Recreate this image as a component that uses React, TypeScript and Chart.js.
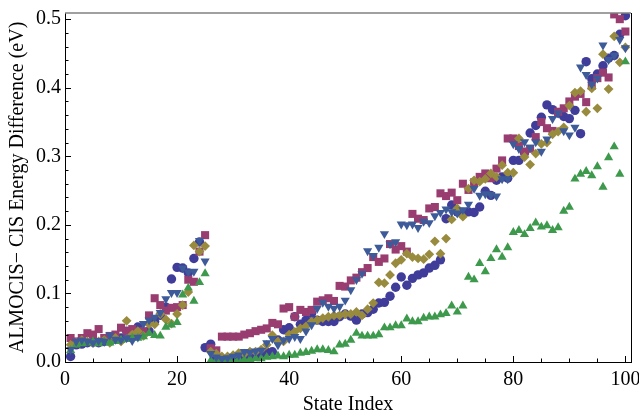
import React, { useEffect, useRef } from 'react';
import { Chart, registerables } from 'chart.js';

Chart.register(...registerables);

// Series values for state index 1..100
const CIRCLE = [
  0.008, 0.025, 0.026, 0.028, 0.029, 0.028, 0.030, 0.030, 0.033, 0.035,
  0.045, 0.040, 0.051, 0.042, 0.045, 0.059, 0.068, 0.080, 0.121, 0.138,
  0.137, 0.130, 0.151, 0.175, 0.021, 0.026, 0.005, 0.004, 0.005, 0.005,
  0.006, 0.007, 0.008, 0.010, 0.012, 0.014, 0.015, 0.032, 0.047, 0.050,
  0.066, 0.055, 0.061, 0.071, 0.061, 0.059, 0.059, 0.059, 0.066, 0.070,
  0.067, 0.061, 0.070, 0.072, 0.077, 0.086, 0.087, 0.096, 0.109, 0.124,
  0.112, 0.122, 0.127, 0.130, 0.137, 0.141, 0.149, 0.209, 0.229, 0.219,
  0.218, 0.219, 0.218, 0.226, 0.249, 0.243, 0.265, 0.270, 0.268, 0.294,
  0.294, 0.305, 0.334, 0.345, 0.357, 0.375, 0.368, 0.363, 0.358, 0.355,
  0.367, 0.333, 0.438, 0.413, 0.420, 0.432, 0.443, 0.447, 0.478, 0.505,
];

const SQUARE = [
  0.035, 0.030, 0.035, 0.042, 0.040, 0.048, 0.035, 0.038, 0.040, 0.050,
  0.045, 0.048, 0.040, 0.045, 0.068, 0.093, 0.083, 0.075, 0.079, 0.080,
  0.083, 0.120, 0.117, 0.161, 0.185, 0.020, 0.017, 0.037, 0.037, 0.037,
  0.037, 0.040, 0.042, 0.045, 0.047, 0.049, 0.057, 0.055, 0.078, 0.080,
  0.066, 0.076, 0.073, 0.076, 0.088, 0.090, 0.093, 0.089, 0.111, 0.110,
  0.119, 0.123, 0.131, 0.137, 0.153, 0.146, 0.151, 0.172, 0.164, 0.169,
  0.161, 0.216, 0.209, 0.207, 0.224, 0.226, 0.246, 0.242, 0.247, 0.236,
  0.260, 0.251, 0.262, 0.270, 0.275, 0.268, 0.282, 0.294, 0.326, 0.326,
  0.315, 0.307, 0.311, 0.328, 0.350, 0.341, 0.337, 0.365, 0.370, 0.380,
  0.387, 0.391, 0.379, 0.403, 0.414, 0.422, 0.415, 0.507, 0.500, 0.482,
];

const DIAMOND = [
  0.025, 0.028, 0.032, 0.030, 0.028, 0.030, 0.032, 0.028, 0.035, 0.030,
  0.060, 0.040, 0.045, 0.038, 0.055, 0.055, 0.070, 0.062, 0.056, 0.070,
  0.083, 0.102, 0.170, 0.161, 0.169, 0.015, 0.012, 0.008, 0.008, 0.010,
  0.013, 0.012, 0.015, 0.015, 0.018, 0.025, 0.039, 0.030, 0.030, 0.040,
  0.044, 0.049, 0.052, 0.059, 0.061, 0.064, 0.066, 0.068, 0.068, 0.070,
  0.070, 0.073, 0.068, 0.077, 0.086, 0.116, 0.115, 0.127, 0.144, 0.149,
  0.158, 0.153, 0.151, 0.150, 0.157, 0.176, 0.158, 0.180, 0.208, 0.224,
  0.212, 0.253, 0.265, 0.263, 0.267, 0.275, 0.270, 0.287, 0.276, 0.276,
  0.326, 0.299, 0.288, 0.304, 0.318, 0.320, 0.332, 0.336, 0.342, 0.374,
  0.393, 0.395, 0.365, 0.399, 0.370, 0.449, 0.398, 0.475, 0.437, 0.459,
];

const TRIANGLE_UP = [
  0.017, 0.025, 0.027, 0.028, 0.030, 0.027, 0.030, 0.028, 0.030, 0.032,
  0.033, 0.035, 0.035, 0.037, 0.042, 0.039, 0.038, 0.051, 0.054, 0.058,
  0.098, 0.108, 0.089, 0.116, 0.129, 0.002, 0.003, 0.002, 0.003, 0.003,
  0.004, 0.003, 0.004, 0.005, 0.005, 0.007, 0.008, 0.009, 0.008, 0.010,
  0.010, 0.013, 0.014, 0.016, 0.018, 0.018, 0.017, 0.015, 0.025, 0.026,
  0.032, 0.042, 0.038, 0.038, 0.038, 0.040, 0.050, 0.050, 0.053, 0.053,
  0.063, 0.059, 0.059, 0.064, 0.066, 0.066, 0.069, 0.071, 0.082, 0.073,
  0.082, 0.124, 0.120, 0.144, 0.132, 0.151, 0.164, 0.153, 0.167, 0.189,
  0.192, 0.186, 0.195, 0.203, 0.197, 0.199, 0.192, 0.196, 0.220, 0.226,
  0.267, 0.274, 0.278, 0.272, 0.285, 0.255, 0.298, 0.314, 0.274, 0.438,
];

const TRIANGLE_DOWN = [
  0.018, 0.030, 0.032, 0.030, 0.028, 0.031, 0.030, 0.039, 0.033, 0.032,
  0.035, 0.031, 0.036, 0.056, 0.061, 0.065, 0.072, 0.092, 0.101, 0.101,
  0.137, 0.131, 0.132, 0.177, 0.147, 0.012, 0.007, 0.005, 0.006, 0.008,
  0.010, 0.015, 0.014, 0.016, 0.017, 0.028, 0.034, 0.025, 0.032, 0.034,
  0.037, 0.034, 0.045, 0.054, 0.078, 0.087, 0.081, 0.078, 0.081, 0.090,
  0.105, 0.120, 0.129, 0.162, 0.155, 0.167, 0.187, 0.172, 0.175, 0.201,
  0.200, 0.201, 0.196, 0.205, 0.203, 0.213, 0.218, 0.223, 0.219, 0.217,
  0.222, 0.230, 0.253, 0.243, 0.245, 0.244, 0.242, 0.267, 0.267, 0.318,
  0.311, 0.321, 0.313, 0.321, 0.307, 0.325, 0.355, 0.363, 0.337, 0.331,
  0.342, 0.430, 0.419, 0.405, 0.414, 0.462, 0.441, 0.447, 0.470, 0.458,
];

const X_TICKS = [0, 20, 40, 60, 80, 100];
const X_ALL_TICKS = [0, 5, 10, 15, 20, 25, 30, 35, 40, 45, 50, 55, 60, 65, 70, 75, 80, 85, 90, 95, 100];
const Y_TICKS = [0, 0.1, 0.2, 0.3, 0.4, 0.5];
const Y_ALL_TICKS = [
  0, 0.02, 0.04, 0.06, 0.08, 0.1, 0.12, 0.14, 0.16, 0.18, 0.2, 0.22, 0.24, 0.26, 0.28,
  0.3, 0.32, 0.34, 0.36, 0.38, 0.4, 0.42, 0.44, 0.46, 0.48, 0.5,
];

const X_TITLE = 'State Index';
const Y_TITLE = 'ALMOCIS\u2212 CIS Energy Difference (eV)';

const FONT = "'Liberation Serif', 'DejaVu Serif', 'Times New Roman', serif";

const toPoints = (arr: number[]) => arr.map((v, i) => ({ x: i + 1, y: v }));

const frameTicks = {
  id: 'frameTicks',
  afterDraw(chart: any) {
    const { ctx, chartArea: a, scales } = chart;
    const xs = scales.x;
    const ys = scales.y;
    ctx.save();
    ctx.lineWidth = 1;
    ctx.strokeStyle = '#000';
    ctx.beginPath();
    for (const v of X_ALL_TICKS) {
      const px = Math.round(xs.getPixelForValue(v)) + 0.5;
      const len = X_TICKS.includes(v) ? 6 : 3.5;
      ctx.moveTo(px, a.bottom);
      ctx.lineTo(px, a.bottom - len);
    }
    for (const v of Y_ALL_TICKS) {
      const py = Math.round(ys.getPixelForValue(v)) + 0.5;
      const len = Y_TICKS.some((t) => Math.abs(t - v) < 1e-9) ? 6 : 3.5;
      ctx.moveTo(a.left, py);
      ctx.lineTo(a.left + len, py);
    }
    ctx.stroke();
    ctx.beginPath();
    ctx.moveTo(Math.round(a.right) + 0.5, a.top);
    ctx.lineTo(Math.round(a.right) + 0.5, a.bottom);
    ctx.stroke();
    ctx.strokeStyle = '#808080';
    ctx.lineWidth = 1.5;
    ctx.beginPath();
    ctx.moveTo(a.left, a.top);
    ctx.lineTo(a.right, a.top);
    ctx.stroke();
    ctx.restore();
  },
};

export default function App() {
  const ref = useRef<HTMLCanvasElement | null>(null);

  useEffect(() => {
    document.body.style.margin = '0';
    if (!ref.current) return;
    const mk = (label: string, data: number[], color: string, style: any, radius: number, order: number, rotation = 0) => ({
      label,
      data: toPoints(data),
      pointStyle: style,
      pointRadius: radius,
      pointRotation: rotation,
      pointBackgroundColor: color,
      pointBorderColor: color,
      pointBorderWidth: 0,
      backgroundColor: color,
      borderColor: color,
      showLine: false,
      clip: 0,
      order,
    });
    const chart = new Chart(ref.current, {
      type: 'scatter',
      data: {
        datasets: [
          mk('circle', CIRCLE, '#3f3d99', 'circle', 4.7, 5),
          mk('square', SQUARE, '#993d71', 'rect', 5.7, 4),
          mk('diamond', DIAMOND, '#998b3d', 'rectRot', 4.9, 3),
          mk('triUp', TRIANGLE_UP, '#3d994b', 'triangle', 5.3, 2),
          mk('triDown', TRIANGLE_DOWN, '#3d5a99', 'triangle', 5.3, 1, 180),
        ] as any,
      },
      options: {
        animation: false,
        responsive: false,
        layout: { padding: { left: 0, right: 8, top: 13, bottom: 0 } },
        plugins: { legend: { display: false }, tooltip: { enabled: false } },
        scales: {
          x: {
            type: 'linear',
            min: 0,
            max: 101,
            grid: { display: false, drawTicks: false },
            border: { display: true, color: '#000', width: 1 },
            afterBuildTicks: (s: any) => {
              s.ticks = X_TICKS.map((v) => ({ value: v }));
            },
            afterFit: (s: any) => {
              s.height = 53;
              s.paddingLeft = 0;
              s.paddingRight = 0;
            },
            ticks: {
              padding: 6,
              color: '#000',
              autoSkip: false,
              maxRotation: 0,
              font: { family: FONT, size: 20 },
              callback: (v: any) => String(v),
            },
            title: {
              display: true,
              text: X_TITLE,
              color: '#000',
              padding: 0,
              font: { family: FONT, size: 20, lineHeight: 1 },
            },
          },
          y: {
            type: 'linear',
            min: 0,
            max: 0.509,
            grid: { display: false, drawTicks: false },
            border: { display: true, color: '#000', width: 1 },
            afterBuildTicks: (s: any) => {
              s.ticks = Y_TICKS.map((v) => ({ value: v }));
            },
            afterFit: (s: any) => {
              s.width = 65;
              s.paddingTop = 0;
              s.paddingBottom = 0;
            },
            ticks: {
              padding: 4,
              color: '#000',
              autoSkip: false,
              font: { family: FONT, size: 20 },
              callback: (v: any) => Number(v).toFixed(1),
            },
            title: {
              display: true,
              text: Y_TITLE,
              color: '#000',
              padding: { top: 8, bottom: 0 },
              font: { family: FONT, size: 20, lineHeight: 1 },
            },
          },
        },
      },
      plugins: [frameTicks],
    });
    return () => chart.destroy();
  }, []);

  return (
    <div style={{ position: 'absolute', left: 0, top: 0, width: 639, height: 415 }}>
      <canvas ref={ref} width={639} height={415} style={{ display: 'block', width: 639, height: 415 }} />
    </div>
  );
}
